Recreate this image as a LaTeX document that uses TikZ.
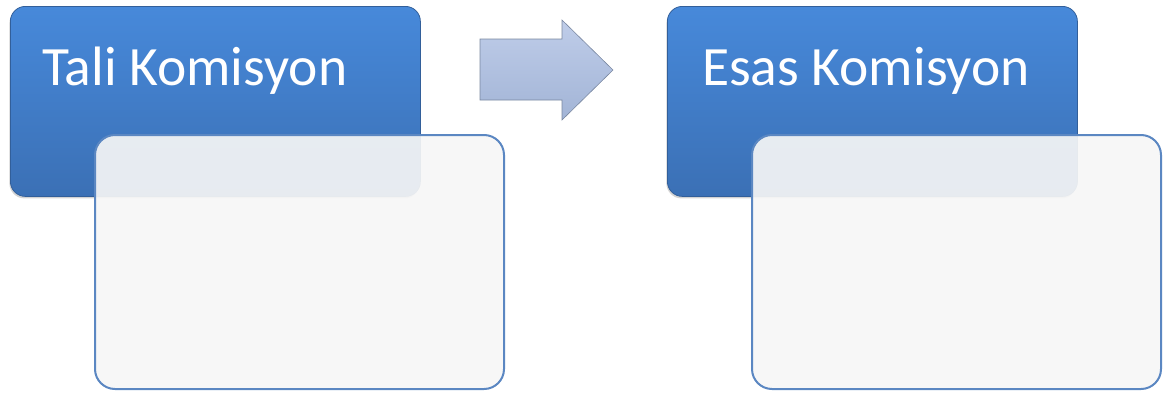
\documentclass[tikz,border=0pt]{standalone}
\usepackage{fontspec}
\setmainfont{Carlito}
\usetikzlibrary{positioning,shadows}
\definecolor{baslikust}{HTML}{4789DA}
\definecolor{baslikalt}{HTML}{3B70B5}
\definecolor{kenar}{HTML}{5B87C2}
\definecolor{icerik}{HTML}{F6F6F6}
\definecolor{okust}{HTML}{BFCDE9}
\definecolor{okalt}{HTML}{A2B4D6}
\begin{document}
\begin{tikzpicture}[x=1pt, y=-1pt]
\tikzstyle{baslik}=[rounded corners=15pt, top color=baslikust, bottom color=baslikalt, draw=baslikalt!85!black, line width=0.8pt, minimum width=410pt, minimum height=190pt, anchor=north west, drop shadow={opacity=0.35, shadow xshift=-1pt, shadow yshift=-2pt}]
\tikzstyle{icerik}=[rounded corners=20pt, fill=icerik, fill opacity=0.92, draw=kenar, line width=2pt, minimum width=409pt, minimum height=254pt, anchor=north west]
\tikzstyle{yazi}=[text=white, font=\fontsize{55.5}{60}\selectfont, anchor=base west, inner sep=0pt]
\useasboundingbox (0,0) rectangle (1165,394);
    % sol taraf
    \node [baslik] (tali) at (10,6) {};
    \node [yazi] (taliyazi) at (42,85) {Tali Komisyon};
    \node [icerik] (taliicerik) at (94,134) {};
    % ok
    \coordinate (okbas) at (480,39);
    \draw [top color=okust, bottom color=okalt, draw=okalt!75!black, line width=0.6pt]
        (okbas) -- (562,39) -- (562,20) -- (613,70) -- (562,120) -- (562,100) -- (480,100) -- cycle;
    % sag taraf
    \node [baslik] (esas) at (667,6) {};
    \node [yazi] (esasyazi) at (702,85) {Esas Komisyon};
    \node [icerik] (esasicerik) at (751,134) {};
\end{tikzpicture}
\end{document}
